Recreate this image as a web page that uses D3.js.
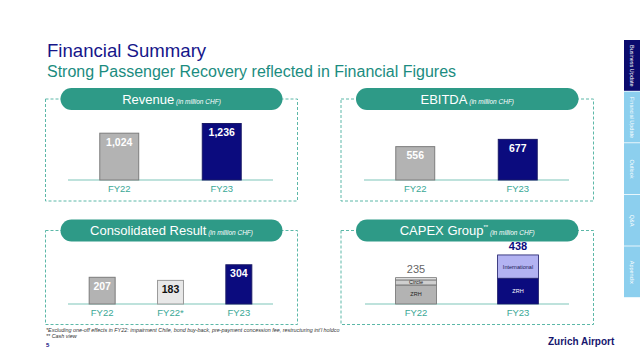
<!DOCTYPE html>
<html lang="en">
<head>
<meta charset="utf-8">
<title>Financial Summary</title>
<script src="https://cdn.jsdelivr.net/npm/d3@7"></script>
<style>
  body { margin: 0; background: #fff; }
  svg { font-family: "Liberation Sans", Arial, sans-serif; display: block; }
</style>
</head>
<body>
<script>
// data
var revCats = ["FY22", "FY23"];
var revVals = [1024, 1236];

var ebitdaCats = ["FY22", "FY23"];
var ebitdaVals = [556, 677];

var resCats = ["FY22", "FY22*", "FY23"];
var resVals = [207, 183, 304];

var capexCats = ["FY22", "FY23"];
var capexZrh = [170, 230];
var capexCircle = [45, 0];
var capexIntl = [20, 208];
var capexTotals = [235, 438];

var navItems = ["Business Update", "Financial Update", "Outlook", "Q&A", "Appendix"];

var w = 640, h = 360;
var teal = "#2e9a87", navy = "#0b0b7e", labTeal = "#3aa896";

var svg = d3.select("body").append("svg")
  .attr("width", w).attr("height", h);

// titles
svg.append("text").attr("x", 47).attr("y", 56.5)
  .attr("font-size", 18.6).attr("fill", "#16168a")
  .text("Financial Summary");
svg.append("text").attr("x", 47).attr("y", 76.5)
  .attr("font-size", 16).attr("fill", "#1b8c80")
  .text("Strong Passenger Recovery reflected in Financial Figures");

function panel(x0, y0, boxW, boxH, title, sup) {
  var g = svg.append("g");
  g.append("rect").attr("x", x0).attr("y", y0)
    .attr("width", boxW).attr("height", boxH)
    .attr("fill", "none").attr("stroke", "#5cb8a8")
    .attr("stroke-width", 1).attr("stroke-dasharray", "3,2");
  var px = x0 + 15, pw = boxW - 30;
  g.append("rect").attr("x", px).attr("y", y0 - 11)
    .attr("width", pw).attr("height", 22).attr("rx", 11)
    .attr("fill", teal);
  var t = g.append("text").attr("x", px + pw / 2).attr("y", y0 + 4.5)
    .attr("text-anchor", "middle").attr("fill", "#fff");
  t.append("tspan").attr("font-size", 13).text(title);
  if (sup) t.append("tspan").attr("font-size", 6).attr("dy", -6).text(sup);
  t.append("tspan").attr("font-size", 6.5).attr("font-style", "italic")
    .attr("dy", sup ? 6 : 0).text("  (in million CHF)");
  return g;
}

function axisLine(g, x, base) {
  g.append("line").attr("x1", x.range()[0]).attr("x2", x.range()[1])
    .attr("y1", base).attr("y2", base)
    .attr("stroke", "#a8d9d0").attr("stroke-width", 1.5);
  x.domain().forEach(function(c) {
    g.append("text").attr("x", x(c) + x.bandwidth() / 2).attr("y", base + 12)
      .attr("text-anchor", "middle").attr("font-size", 9.5)
      .attr("fill", labTeal).text(c);
  });
}

var fills = { "FY22": "#b3b3b3", "FY22*": "#e8e8e8", "FY23": navy };
var strokes = { "FY22": "#7c7c7c", "FY22*": "#9a9a9a", "FY23": "#1a1a66" };
var labCol = { "FY22": "#fff", "FY22*": "#111", "FY23": "#fff" };

function simpleBars(g, cats, vals, x, y, base) {
  var data = cats.map(function(c, i) { return { c: c, v: vals[i] }; });
  g.selectAll(".bar").data(data).enter().append("rect")
    .attr("x", function(d) { return x(d.c); })
    .attr("y", function(d) { return y(d.v); })
    .attr("width", x.bandwidth())
    .attr("height", function(d) { return base - y(d.v); })
    .attr("fill", function(d) { return fills[d.c]; })
    .attr("stroke", function(d) { return strokes[d.c]; })
    .attr("stroke-width", 1);
  g.selectAll(".val").data(data).enter().append("text")
    .attr("x", function(d) { return x(d.c) + x.bandwidth() / 2; })
    .attr("y", function(d) { return y(d.v) + 12.5; })
    .attr("text-anchor", "middle").attr("font-size", 10.5).attr("font-weight", "bold")
    .attr("fill", function(d) { return labCol[d.c]; })
    .text(function(d) { return d3.format(",")(d.v); });
}

// Revenue
var gRev = panel(45.5, 99, 252, 102, "Revenue");
var xRev = d3.scaleBand().domain(revCats).range([68, 273]).paddingInner(0.62).paddingOuter(0.31);
var yRev = d3.scaleLinear().domain([0, 1400]).range([180, 116]);
axisLine(gRev, xRev, 180);
simpleBars(gRev, revCats, revVals, xRev, yRev, 180);

// EBITDA
var gEb = panel(341, 99, 252.5, 102, "EBITDA");
var xEb = d3.scaleBand().domain(ebitdaCats).range([364, 569]).paddingInner(0.62).paddingOuter(0.31);
var yEb = d3.scaleLinear().domain([0, 800]).range([180, 132]);
axisLine(gEb, xEb, 180);
simpleBars(gEb, ebitdaCats, ebitdaVals, xEb, yEb, 180);

// Consolidated Result
var gRes = panel(45.5, 230.5, 252, 94, "Consolidated Result");
var xRes = d3.scaleBand().domain(resCats).range([68, 273]).paddingInner(0.62).paddingOuter(0.31);
var yRes = d3.scaleLinear().domain([0, 400]).range([304, 252.4]);
axisLine(gRes, xRes, 304);
simpleBars(gRes, resCats, resVals, xRes, yRes, 304);

// CAPEX Group (stacked)
var gCap = panel(341, 230.5, 252.5, 94, "CAPEX Group", "**");
var xCap = d3.scaleBand().domain(capexCats).range([365, 569]).paddingInner(0.6).paddingOuter(0.3);
var yCap = d3.scaleLinear().domain([0, 500]).range([304, 248]);
axisLine(gCap, xCap, 304);

var capRows = capexCats.map(function(c, i) {
  return { c: c, ZRH: capexZrh[i], Circle: capexCircle[i], Intl: capexIntl[i] };
});
var stack = d3.stack().keys(["ZRH", "Circle", "Intl"])(capRows);
var segFill = {
  "FY22": { ZRH: "#b3b3b3", Circle: "#cfcfcf", Intl: "#e6e6e6" },
  "FY23": { ZRH: navy, Circle: navy, Intl: "#b3b3f2" }
};
var segName = { ZRH: "ZRH", Circle: "Circle", Intl: "International" };
var segText = {
  "FY22": { ZRH: "#222", Circle: "#222", Intl: "#222" },
  "FY23": { ZRH: "#fff", Circle: "#fff", Intl: "#1a1a55" }
};
stack.forEach(function(layer) {
  layer.forEach(function(d) {
    var c = d.data.c;
    if (d[1] - d[0] <= 0) return;
    gCap.append("rect")
      .attr("x", xCap(c)).attr("y", yCap(d[1]))
      .attr("width", xCap.bandwidth()).attr("height", yCap(d[0]) - yCap(d[1]))
      .attr("fill", segFill[c][layer.key])
      .attr("stroke", c === "FY22" ? "#6f6f6f" : "#1a1a66").attr("stroke-width", 0.8);
    if (layer.key === "Intl" && c === "FY22") return;
    gCap.append("text")
      .attr("x", xCap(c) + xCap.bandwidth() / 2)
      .attr("y", (yCap(d[0]) + yCap(d[1])) / 2 + 2)
      .attr("text-anchor", "middle").attr("font-size", 5.5)
      .attr("fill", segText[c][layer.key]).text(segName[layer.key]);
  });
});
capexCats.forEach(function(c, i) {
  gCap.append("text").attr("x", xCap(c) + xCap.bandwidth() / 2)
    .attr("y", yCap(capexTotals[i]) - 5)
    .attr("text-anchor", "middle").attr("font-size", 11)
    .attr("font-weight", c === "FY23" ? "bold" : "normal")
    .attr("fill", c === "FY23" ? navy : "#666").text(capexTotals[i]);
});

// footnotes
svg.append("text").attr("x", 46).attr("y", 332).attr("font-size", 5.4)
  .attr("font-style", "italic").attr("fill", "#333")
  .text("*Excluding one-off effects in FY22: impairment Chile, bond buy-back, pre-payment concession fee, restructuring int'l holdco");
svg.append("text").attr("x", 46).attr("y", 338).attr("font-size", 5.4)
  .attr("font-style", "italic").attr("fill", "#333").text("** Cash view");
svg.append("text").attr("x", 46).attr("y", 347).attr("font-size", 6)
  .attr("font-weight", "bold").attr("fill", navy).text("5");

svg.append("text").attr("x", 548).attr("y", 345).attr("font-size", 10)
  .attr("font-weight", "bold").attr("fill", "#16166e").text("Zurich Airport");

// side navigation
var navY = d3.scaleBand().domain(navItems).range([40, 298]);
var nav = svg.append("g");
nav.selectAll("rect").data(navItems).enter().append("rect")
  .attr("x", 624).attr("width", 16)
  .attr("y", function(d) { return navY(d); })
  .attr("height", navY.bandwidth() - 0.8)
  .attr("fill", function(d, i) { return i === 0 ? "#0b0b6e" : "#8ccfee"; });
nav.selectAll("text").data(navItems).enter().append("text")
  .attr("transform", function(d) {
    return "translate(630," + (navY(d) + navY.bandwidth() / 2) + ") rotate(90)";
  })
  .attr("text-anchor", "middle").attr("font-size", 5.5).attr("fill", "#fff")
  .text(function(d) { return d; });
</script>
</body>
</html>
